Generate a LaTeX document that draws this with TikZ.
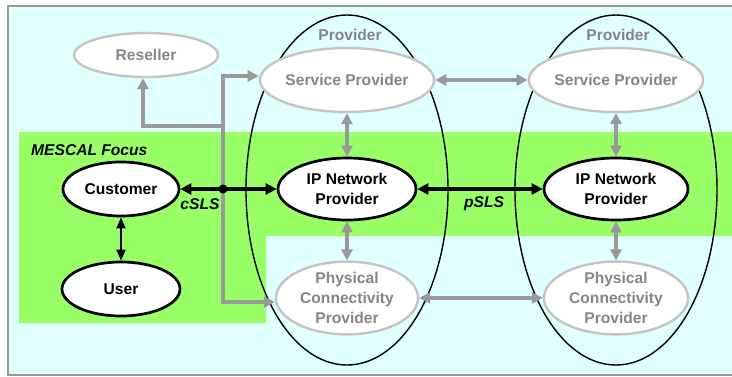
\documentclass[tikz,border=0pt]{standalone}
\usepackage{fontspec}
\setmainfont{Liberation Sans}
\usetikzlibrary{shapes.geometric,arrows.meta,calc}
\definecolor{bgcyan}{HTML}{E0FFFF}
\definecolor{focusgreen}{HTML}{99FF66}
\definecolor{frameg}{HTML}{999999}
\definecolor{txtgray}{HTML}{858585}
\definecolor{ellgray}{HTML}{C4C4C4}
\definecolor{arrgray}{HTML}{999999}
\tikzset{
  base/.style={ellipse,inner sep=0pt,align=center,font=\fontsize{15.6}{20}\selectfont\bfseries},
  blacknode/.style={base,draw=black,line width=2.7pt,fill=white,text=black},
  graynode/.style={base,draw=ellgray,line width=2.4pt,fill=white,text=txtgray},
  provider/.style={ellipse,draw=black,line width=1.4pt,inner sep=0pt,minimum width=202pt,minimum height=350pt},
  blkarrow/.style={line width=3.2pt,{Triangle[length=11pt,width=11pt]}-{Triangle[length=11pt,width=11pt]}},
  thinarrow/.style={line width=1.8pt,{Triangle[length=11pt,width=9pt]}-{Triangle[length=11pt,width=9pt]}},
  grayarrow/.style={draw=arrgray,line width=3.2pt,-{Triangle[length=11pt,width=11pt]}},
  graydbl/.style={draw=arrgray,line width=3.2pt,{Triangle[length=11pt,width=11pt]}-{Triangle[length=11pt,width=11pt]}},
  lbl/.style={font=\fontsize{15.6}{18}\selectfont\bfseries\itshape,inner sep=0pt},
  provlbl/.style={font=\fontsize{15.6}{18}\selectfont\bfseries,text=txtgray,inner sep=0pt}
}
\begin{document}
\begin{tikzpicture}[x=1pt,y=-1pt]
\useasboundingbox (0,0) rectangle (732,376);
% frame and background
\fill[bgcyan] (8,6) rectangle (740,375);
\draw[frameg,line width=2.6pt] (740,6) -- (8,6) -- (8,375) -- (740,375);
% MESCAL focus region
\fill[focusgreen] (19,132) -- (740,132) -- (740,236) -- (266,236) -- (266,323) -- (19,323) -- cycle;
\node[lbl,anchor=west] (focus) at (31,150) {MESCAL Focus};
% provider containers
\node[provider] (prov1) at (347,190) {};
\node[provider] (prov2) at (616,190) {};
\node[provlbl] (prov1lbl) at (350,35) {Provider};
\node[provlbl] (prov2lbl) at (618,35) {Provider};
% nodes
\node[graynode,minimum width=144pt,minimum height=44pt] (res) at (146,55) {Reseller};
\node[graynode,minimum width=144pt,minimum height=64pt] (sp1) at (347,80) {Service Provider};
\node[graynode,minimum width=144pt,minimum height=64pt] (sp2) at (616,80) {Service Provider};
\node[blacknode,minimum width=138pt,minimum height=62pt] (ip1) at (347,189) {IP Network\\Provider};
\node[blacknode,minimum width=144pt,minimum height=62pt] (ip2) at (616,189) {IP Network\\Provider};
\node[blacknode,minimum width=116pt,minimum height=54pt] (cust) at (121,189) {Customer};
\node[blacknode,minimum width=118pt,minimum height=54pt] (user) at (121,289) {User};
\node[graynode,minimum width=142pt,minimum height=66pt] (pcp1) at (347,298) {Physical\\Connectivity\\Provider};
\node[graynode,minimum width=144pt,minimum height=66pt] (pcp2) at (616,298) {Physical\\Connectivity\\Provider};
% connectors
\coordinate (dot) at (223,189);
\coordinate (resjoin) at (223,126);
\draw[grayarrow] (dot) |- ([yshift=4pt]sp1.west);
\draw[grayarrow] (dot) |- ([yshift=-4pt]pcp1.west);
\draw[grayarrow] (resjoin) -| ([xshift=-3pt]res.south);
\draw[blkarrow] (cust) -- (ip1);
\fill (dot) circle (4.5pt);
\draw[blkarrow] (ip1) -- (ip2);
\draw[thinarrow] (cust) -- (user);
\draw[graydbl] (sp1) -- (sp2);
\draw[graydbl] (pcp1) -- (pcp2);
\draw[graydbl] (sp1) -- (ip1);
\draw[graydbl] (ip1) -- (pcp1);
\draw[graydbl] (sp2) -- (ip2);
\draw[graydbl] (ip2) -- (pcp2);
\node[lbl] (csls) at (200,204) {cSLS};
\node[lbl] (psls) at (484,204) {pSLS};
\end{tikzpicture}
\end{document}
